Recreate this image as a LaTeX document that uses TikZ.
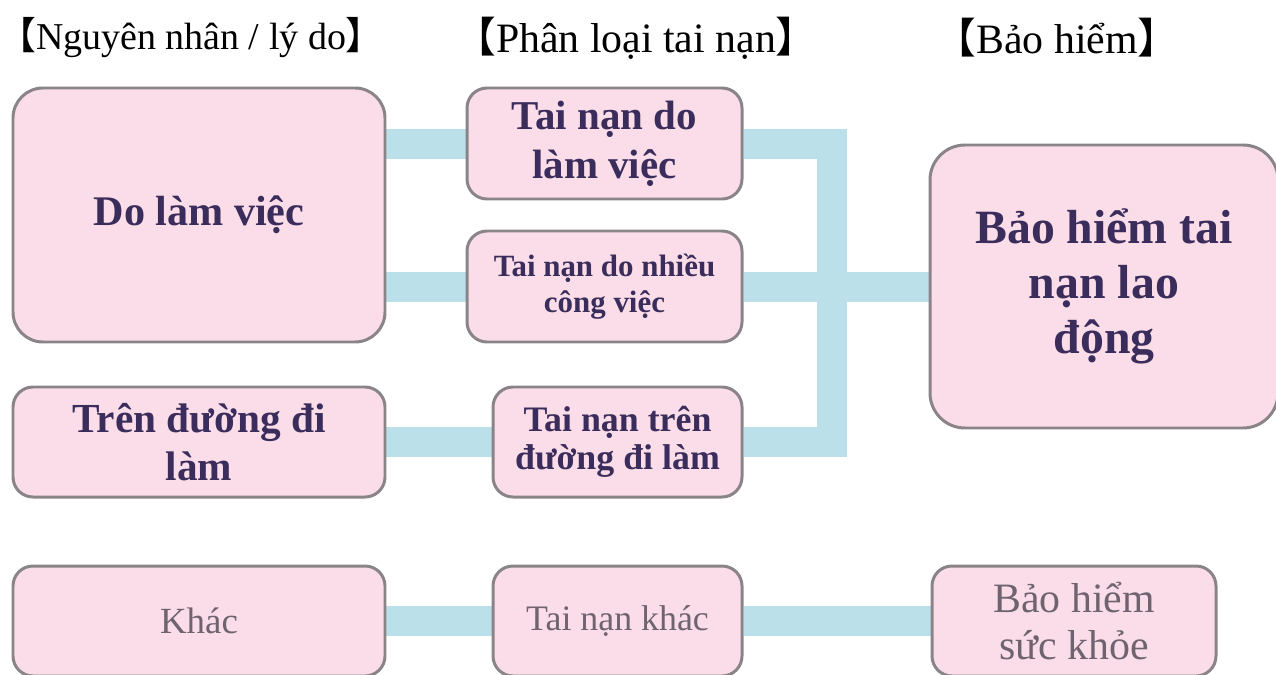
\documentclass[tikz,border=0pt]{standalone}
\usepackage{fontspec}
\setmainfont{Liberation Serif}
\newfontfamily\cjk{Noto Sans CJK SC}
\usetikzlibrary{backgrounds}

\definecolor{boxpink}{HTML}{FADDE9}
\definecolor{boxedge}{HTML}{8A8489}
\definecolor{inkdark}{HTML}{3B2D5B}
\definecolor{inkgrey}{HTML}{6F6370}
\definecolor{linkblue}{HTML}{BCE0EA}

\begin{document}
\begin{tikzpicture}
        \tikzstyle{box}=[draw=boxedge, line width=1.7pt, fill=boxpink, rounded corners=0.4cm, align=center, inner sep=0pt]
        \tikzstyle{main}=[box, text=inkdark]
        \tikzstyle{dim}=[box, text=inkgrey]
        \tikzstyle{hdr}=[inner sep=0pt, font=\fontsize{23.8}{28}\selectfont]
        \tikzstyle{link}=[draw=linkblue, line width=0.6cm]

        \useasboundingbox (0,0) rectangle (25.52,-13.48);

        % headings
        \node   (h1)   [hdr, font=\fontsize{21.6}{26}\selectfont] at (3.82,-0.76) {{\cjk 【}Nguyên nhân / lý do{\cjk 】}};
        \node   (h2)   [hdr] at (12.72,-0.76) {{\cjk 【}Phân loại tai nạn{\cjk 】}};
        \node   (h3)   [hdr] at (21.14,-0.76) {{\cjk 【}Bảo hiểm{\cjk 】}};

        % causes
        \node   (dolv)  [main, minimum width=7.44cm, minimum height=5.08cm, rounded corners=0.6cm,
                         font=\bfseries\fontsize{24}{28}\selectfont] at (3.98,-4.30) {Do làm việc};
        \node   (duong) [main, minimum width=7.44cm, minimum height=2.20cm,
                         font=\bfseries\fontsize{23.5}{27.2}\selectfont] at (3.98,-8.84) {Trên đường đi\\làm};
        \node   (khac)  [dim, minimum width=7.44cm, minimum height=2.20cm,
                         font=\fontsize{21}{25}\selectfont] at (3.98,-12.42) {Khác};

        % accident types
        \node   (tn1)   [main, minimum width=5.50cm, minimum height=2.22cm,
                         font=\bfseries\fontsize{23.3}{27.8}\selectfont] at (12.09,-2.87) {Tai nạn do\\làm việc};
        \node   (tn2)   [main, minimum width=5.50cm, minimum height=2.22cm,
                         font=\bfseries\fontsize{17.6}{20.4}\selectfont] at (12.09,-5.73) {Tai nạn do nhiều\\công việc};
        \node   (tn3)   [main, minimum width=4.98cm, minimum height=2.20cm,
                         font=\bfseries\fontsize{20.4}{21.8}\selectfont] at (12.35,-8.84) {Tai nạn trên\\đường đi làm};
        \node   (tnk)   [dim, minimum width=4.98cm, minimum height=2.20cm,
                         font=\fontsize{20.4}{24}\selectfont] at (12.35,-12.42) {Tai nạn khác};

        % insurance
        \node   (bhld)  [main, minimum width=6.96cm, minimum height=5.66cm, rounded corners=0.7cm,
                         font=\bfseries\fontsize{27.2}{31.2}\selectfont] at (22.08,-5.73) {Bảo hiểm tai\\nạn lao\\động};
        \node   (bhsk)  [dim, minimum width=5.68cm, minimum height=2.20cm,
                         font=\fontsize{23.8}{26.6}\selectfont] at (21.48,-12.42) {Bảo hiểm\\sức khỏe};

        \coordinate (jn) at (16.64,0);

        \begin{scope}[on background layer]
            \draw[link] (dolv.east |- tn1.west) -- (tn1.west);
            \draw[link] (dolv.east |- tn2.west) -- (tn2.west);
            \draw[link] (duong.east) -- (tn3.west);
            \draw[link] (khac.east) -- (tnk.west);
            \draw[link] (tnk.east) -- (bhsk.west);
            \draw[link] (tn2.east) -- (bhld.west);
            \draw[link] (tn1.east) -| (jn |- tn3.east) -- (tn3.east);
        \end{scope}

    \end{tikzpicture}
\end{document}
